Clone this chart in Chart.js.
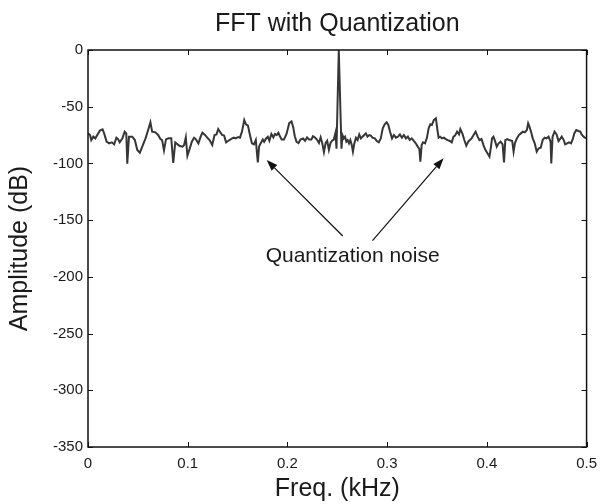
<!DOCTYPE html>
<html>
<head>
<meta charset="utf-8">
<script src="https://cdn.jsdelivr.net/npm/chart.js@4.4.1/dist/chart.umd.min.js"></script>
<style>
  html, body { margin: 0; padding: 0; background: #ffffff; }
  #wrap { width: 605px; height: 504px; }
</style>
</head>
<body>
<div id="wrap"><canvas id="c" width="605" height="504"></canvas></div>
<script>
// ---- Data (frequency in kHz, amplitude in dB) ----
const freq = [
  0.000, 0.002, 0.0033, 0.0053, 0.0073, 0.0096, 0.0119, 0.0146, 0.0162, 0.0186,
  0.0212, 0.0239, 0.0262, 0.0285, 0.0301, 0.0318, 0.0345, 0.0368, 0.0384, 0.0394,
  0.0411, 0.0444, 0.047, 0.0494, 0.052, 0.055, 0.0577, 0.0603, 0.0626, 0.0643,
  0.0676, 0.0703, 0.0726, 0.0743, 0.0762, 0.0782, 0.0808, 0.0835, 0.0855, 0.0875,
  0.0898, 0.0921, 0.0948, 0.0964, 0.0981, 0.0997, 0.1021, 0.1041, 0.1064, 0.108,
  0.1107, 0.113, 0.1147, 0.1173, 0.1196, 0.1219, 0.1246, 0.1269, 0.1289, 0.1306,
  0.1329, 0.1345, 0.1365, 0.1385, 0.1405, 0.1425, 0.1445, 0.1464, 0.1484, 0.1505,
  0.1524, 0.1544, 0.1567, 0.1584, 0.1604, 0.1624, 0.1644, 0.1664, 0.1683, 0.1703,
  0.1716, 0.1733, 0.1753, 0.1766, 0.1786, 0.1803, 0.1819, 0.1839, 0.1859, 0.1875,
  0.1892, 0.1909, 0.1925, 0.1942, 0.1965, 0.1991, 0.2018, 0.2041, 0.2058, 0.2074,
  0.2091, 0.2111, 0.2130, 0.2157, 0.2177, 0.2197, 0.2217, 0.2240, 0.2256, 0.2273,
  0.2296, 0.2316, 0.2333, 0.2349, 0.2366, 0.2383, 0.2399, 0.2416, 0.2432, 0.2448,
  0.2465, 0.2482, 0.2492, 0.2515, 0.2542, 0.2552, 0.2565, 0.2578, 0.2591, 0.2604,
  0.2618, 0.2631, 0.2644, 0.2657, 0.2671, 0.2687, 0.2704, 0.2720, 0.2737, 0.2753,
  0.2770, 0.2787, 0.2803, 0.2820, 0.2836, 0.2853, 0.2876, 0.2896, 0.2916, 0.2936,
  0.2956, 0.2975, 0.2995, 0.3012, 0.3029, 0.3049, 0.3068, 0.3088, 0.3108, 0.3128,
  0.3148, 0.3168, 0.3188, 0.3208, 0.3227, 0.3247, 0.3267, 0.3287, 0.3307, 0.3323,
  0.3333, 0.3346, 0.3360, 0.3380, 0.3400, 0.3416, 0.3433, 0.3449, 0.3469, 0.3489,
  0.3502, 0.3516, 0.3532, 0.3549, 0.3569, 0.3588, 0.3608, 0.3628, 0.3648, 0.3665,
  0.3681, 0.3701, 0.3721, 0.3734, 0.3754, 0.3774, 0.3794, 0.3814, 0.3830, 0.3847,
  0.3867, 0.3887, 0.3907, 0.3926, 0.3946, 0.3966, 0.3986, 0.4006, 0.4026, 0.4039,
  0.4052, 0.4066, 0.4079, 0.4099, 0.4118, 0.4138, 0.4158, 0.4172, 0.4185, 0.4205,
  0.4225, 0.4254, 0.4268, 0.4281, 0.4301, 0.4321, 0.4341, 0.4361, 0.4381, 0.4401,
  0.4414, 0.4427, 0.4443, 0.4460, 0.4480, 0.4500, 0.4520, 0.4540, 0.4560, 0.4579,
  0.4599, 0.4619, 0.4639, 0.4646, 0.4659, 0.4679, 0.4699, 0.4719, 0.4739, 0.4751,
  0.4771, 0.4785, 0.4805, 0.4824, 0.4844, 0.4864, 0.4877, 0.4897, 0.4917, 0.4937,
  0.4950, 0.4970, 0.4983, 0.5000
];
const amplitude = [
  -73.5, -74.9, -79.4, -76.4, -77.9, -74.4, -71.1, -70.0, -73.5, -80.8,
  -82.3, -81.4, -83.2, -77.3, -78.5, -81.4, -77.9, -72.0, -73.5, -100.2,
  -76.4, -76.4, -79.4, -88.2, -90.5, -83.8, -77.9, -70.5, -63.8, -72.0,
  -72.6, -74.9, -78.5, -79.4, -88.5, -78.8, -77.9, -77.9, -99.5, -81.5,
  -83.2, -84.6, -85.2, -83.8, -77.0, -93.2, -86.7, -80.8, -77.3, -78.5,
  -82.3, -76.4, -72.9, -74.9, -77.3, -79.4, -83.8, -74.9, -74.4, -69.7,
  -72.9, -74.9, -75.5, -81.4, -80.2, -79.1, -77.9, -77.3, -77.9, -76.7,
  -77.3, -72.0, -61.7, -65.5, -66.7, -74.9, -82.3, -83.2, -79.4, -99.0,
  -85.0, -82.0, -79.0, -81.0, -78.0, -76.5, -80.0, -74.0, -77.0, -74.0,
  -75.0, -73.0, -76.0, -79.0, -79.0, -74.0, -64.5, -63.0, -68.0, -76.0,
  -81.0, -82.0, -79.0, -78.0, -80.0, -77.0, -79.0, -79.0, -76.0, -77.0,
  -79.0, -82.0, -77.0, -82.0, -90.0, -82.0, -80.0, -88.0, -82.0, -80.0,
  -79.0, -73.0, -87.0, 0.0, -87.0, -75.0, -77.9, -76.4, -80.8, -79.4,
  -82.3, -79.4, -83.2, -89.6, -82.3, -77.3, -79.4, -74.4, -77.9, -76.4,
  -75.0, -73.5, -76.4, -75.0, -75.5, -77.3, -77.9, -80.2, -81.4, -77.9,
  -69.1, -65.5, -63.8, -66.1, -72.0, -77.9, -75.0, -77.3, -76.4, -74.4,
  -77.3, -75.0, -77.9, -76.4, -79.4, -77.9, -80.2, -82.3, -85.2, -87.3,
  -98.5, -83.8, -81.4, -82.3, -77.0, -69.1, -65.5, -66.1, -61.7, -60.3,
  -69.1, -77.3, -76.4, -77.9, -77.3, -78.5, -79.4, -80.2, -81.4, -76.4,
  -75.5, -72.0, -74.4, -69.7, -73.5, -79.4, -84.3, -80.8, -79.4, -77.9,
  -75.0, -72.0, -76.4, -79.4, -78.5, -83.8, -88.2, -91.1, -94.0, -86.7,
  -77.9, -76.4, -79.4, -85.2, -82.3, -80.8, -83.2, -99.1, -79.4, -78.5,
  -79.4, -80.2, -89.6, -82.3, -77.9, -75.0, -73.5, -72.0, -72.6, -70.5,
  -64.7, -67.6, -72.0, -77.9, -82.3, -89.6, -86.7, -86.1, -79.4, -77.3,
  -77.9, -76.4, -80.8, -100.0, -76.4, -72.0, -74.4, -80.2, -77.9, -76.4,
  -79.4, -83.2, -82.3, -81.4, -82.3, -77.9, -73.5, -70.5, -71.4, -72.0,
  -74.4, -76.4, -77.3, -77.9
];
const xTickValues = [0, 0.1, 0.2, 0.3, 0.4, 0.5];
const xTickLabels = ['0', '0.1', '0.2', '0.3', '0.4', '0.5'];
const yTickValues = [0, -50, -100, -150, -200, -250, -300, -350];
const yTickLabels = ['0', '-50', '-100', '-150', '-200', '-250', '-300', '-350'];

const chartTitle = 'FFT with Quantization';
const xTitle = 'Freq. (kHz)';
const yTitle = 'Amplitude (dB)';
const noteText = 'Quantization noise';
// annotation anchor points in data units [kHz, dB]
const noteAt = [0.2654, -182];
const arrows = [
  { from: [0.2555, -164], to: [0.1792, -97] },
  { from: [0.2853, -168], to: [0.3566, -95.5] }
];

// ---- Chart ----
const FONT = '"Liberation Sans", Arial, Helvetica, sans-serif';
const points = freq.map((f, i) => ({ x: f, y: amplitude[i] }));

const decor = {
  id: 'decor',
  afterDraw(chart) {
    const ctx = chart.ctx;
    const a = chart.chartArea;
    const xs = chart.scales.x, ys = chart.scales.y;
    ctx.save();
    // box
    ctx.strokeStyle = '#111';
    ctx.lineWidth = 1.5;
    ctx.strokeRect(a.left, a.top, a.right - a.left, a.bottom - a.top);
    // inward ticks
    const tl = 5;
    ctx.lineWidth = 1;
    ctx.beginPath();
    xTickValues.forEach(v => {
      const px = Math.round(xs.getPixelForValue(v)) + 0.5;
      ctx.moveTo(px, a.bottom); ctx.lineTo(px, a.bottom - tl);
      ctx.moveTo(px, a.top); ctx.lineTo(px, a.top + tl);
    });
    yTickValues.forEach(v => {
      const py = Math.round(ys.getPixelForValue(v)) + 0.5;
      ctx.moveTo(a.left, py); ctx.lineTo(a.left + tl, py);
      ctx.moveTo(a.right, py); ctx.lineTo(a.right - tl, py);
    });
    ctx.stroke();

    // titles
    ctx.fillStyle = '#1a1a1a';
    ctx.textAlign = 'center';
    ctx.textBaseline = 'middle';
    ctx.font = '25px ' + FONT;
    ctx.fillText(chartTitle, (a.left + a.right) / 2, 24);
    ctx.fillText(xTitle, (a.left + a.right) / 2, 489);
    ctx.save();
    ctx.translate(20, (a.top + a.bottom) / 2);
    ctx.rotate(-Math.PI / 2);
    ctx.fillText(yTitle, 0, 0);
    ctx.restore();

    // annotation text
    ctx.font = '21px ' + FONT;
    ctx.fillText(noteText, xs.getPixelForValue(noteAt[0]), ys.getPixelForValue(noteAt[1]));

    // arrows
    ctx.strokeStyle = '#111';
    ctx.fillStyle = '#111';
    ctx.lineWidth = 1.2;
    arrows.forEach(ar => {
      const x1 = xs.getPixelForValue(ar.from[0]), y1 = ys.getPixelForValue(ar.from[1]);
      const x2 = xs.getPixelForValue(ar.to[0]), y2 = ys.getPixelForValue(ar.to[1]);
      const ang = Math.atan2(y2 - y1, x2 - x1);
      const hl = 11, hw = 4;
      const bx = x2 - hl * Math.cos(ang), by = y2 - hl * Math.sin(ang);
      ctx.beginPath();
      ctx.moveTo(x1, y1); ctx.lineTo(bx, by);
      ctx.stroke();
      ctx.beginPath();
      ctx.moveTo(x2, y2);
      ctx.lineTo(bx + hw * Math.sin(ang), by - hw * Math.cos(ang));
      ctx.lineTo(bx - hw * Math.sin(ang), by + hw * Math.cos(ang));
      ctx.closePath();
      ctx.fill();
    });
    ctx.restore();
  }
};

new Chart(document.getElementById('c'), {
  type: 'line',
  data: {
    datasets: [{
      data: points,
      borderColor: '#363636',
      borderWidth: 2,
      pointRadius: 0,
      tension: 0,
      fill: false
    }]
  },
  options: {
    responsive: false,
    animation: false,
    devicePixelRatio: 1,
    layout: { padding: { top: 50, right: 14, bottom: 0, left: 0 } },
    plugins: { legend: { display: false }, tooltip: { enabled: false }, title: { display: false } },
    scales: {
      x: {
        type: 'linear',
        min: 0, max: 0.5,
        grid: { display: false, drawTicks: false },
        border: { display: false },
        afterFit(s) { s.height = 57; },
        afterBuildTicks(s) { s.ticks = xTickValues.map(v => ({ value: v })); },
        ticks: {
          padding: 8,
          color: '#1a1a1a',
          font: { family: FONT, size: 15 },
          maxRotation: 0,
          autoSkip: false,
          callback: (v) => xTickLabels[xTickValues.findIndex(t => Math.abs(t - v) < 1e-9)]
        }
      },
      y: {
        type: 'linear',
        min: -350, max: 0,
        grid: { display: false, drawTicks: false },
        border: { display: false },
        afterFit(s) { s.width = 88; },
        afterBuildTicks(s) { s.ticks = yTickValues.map(v => ({ value: v })); },
        ticks: {
          padding: 5,
          color: '#1a1a1a',
          font: { family: FONT, size: 15 },
          autoSkip: false,
          callback: (v) => yTickLabels[yTickValues.indexOf(v)]
        }
      }
    }
  },
  plugins: [decor]
});
</script>
</body>
</html>
